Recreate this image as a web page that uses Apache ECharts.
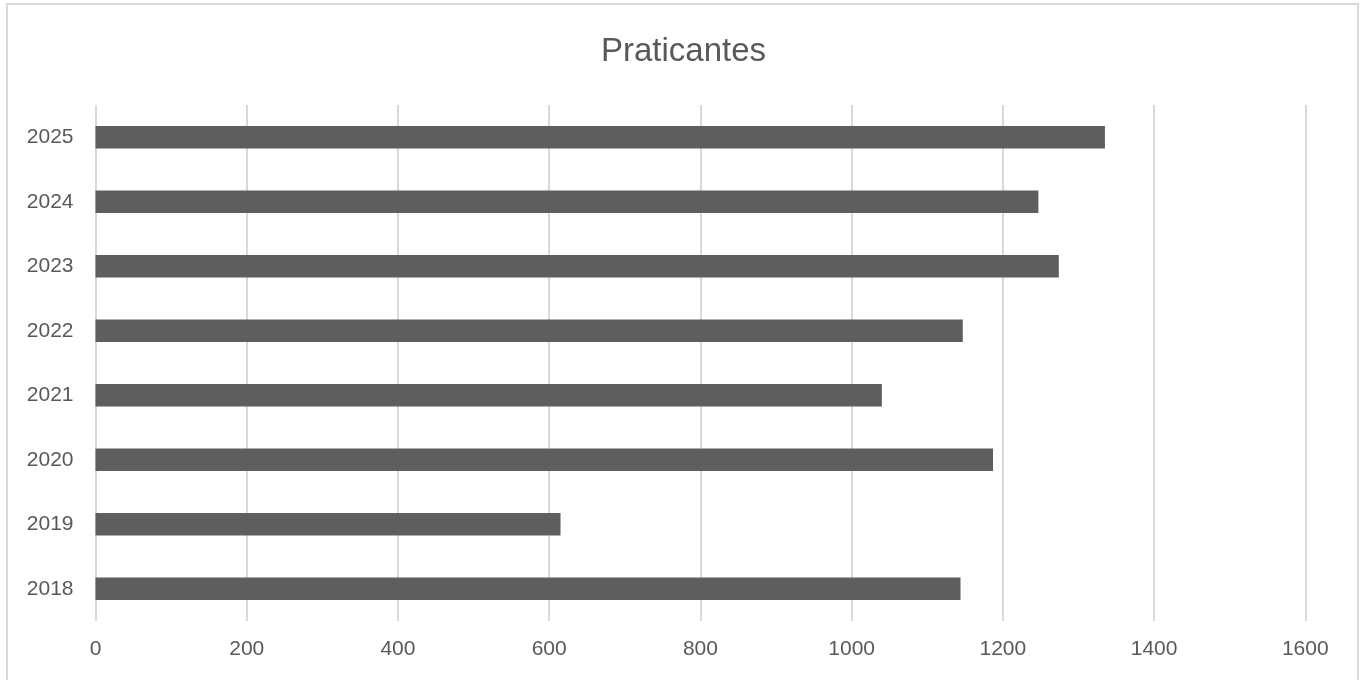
<!DOCTYPE html>
<html>
<head>
<meta charset="utf-8">
<script src="https://cdn.jsdelivr.net/npm/echarts@6/dist/echarts.min.js"></script>
<style>
html,body{margin:0;padding:0;background:#fff;}
#chart{width:1367px;height:680px;}
</style>
</head>
<body>
<div id="chart"></div>
<script>
const titleText = 'Praticantes';
const categories = ['2018','2019','2020','2021','2022','2023','2024','2025'];
const values = [1144, 615, 1187, 1040, 1147, 1274, 1247, 1335];
const xMin = 0, xMax = 1600, xStep = 200;

const chart = echarts.init(document.getElementById('chart'));
chart.setOption({
  backgroundColor: '#ffffff',
  animation: false,
  graphic: [{
    type: 'rect',
    shape: { x: 7, y: 4, width: 1351, height: 700 },
    style: { fill: 'none', stroke: '#d9d9d9', lineWidth: 2 },
    silent: true
  }],
  title: {
    text: titleText,
    left: 'center',
    top: 30,
    textStyle: { color: '#595959', fontSize: 33, fontWeight: 'normal', fontFamily: 'Liberation Sans, Arial, sans-serif' }
  },
  grid: { left: 95.5, right: 61.7, top: 105, bottom: 59, containLabel: false },
  xAxis: {
    type: 'value',
    min: xMin, max: xMax, interval: xStep,
    axisLine: { show: false },
    axisTick: { show: false },
    splitLine: { show: true, lineStyle: { color: '#d9d9d9', width: 2 } },
    axisLabel: { color: '#595959', fontSize: 21, margin: 18, fontFamily: 'Liberation Sans, Arial, sans-serif',
      formatter: function (v) { return String(v); } }
  },
  yAxis: {
    type: 'category',
    data: categories,
    axisLine: { show: false },
    axisTick: { show: false },
    splitLine: { show: false },
    axisLabel: { color: '#595959', fontSize: 21, margin: 22, fontFamily: 'Liberation Sans, Arial, sans-serif' }
  },
  series: [{
    type: 'bar',
    data: values,
    barWidth: '35%',
    itemStyle: { color: '#5e5e5e' }
  }]
});
</script>
</body>
</html>
